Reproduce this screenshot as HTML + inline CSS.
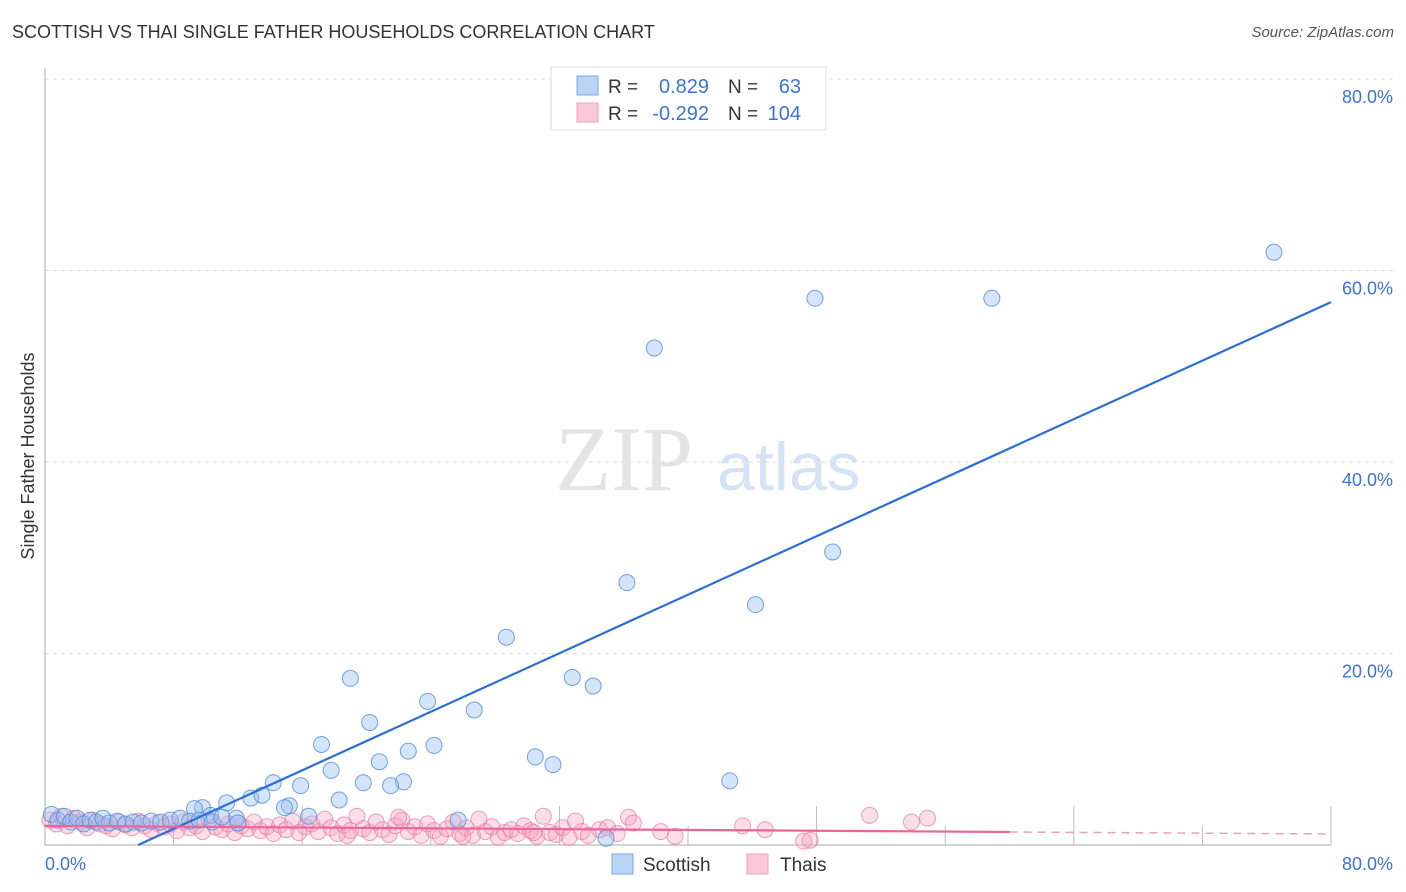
<!DOCTYPE html>
<html><head><meta charset="utf-8"><style>
body{margin:0;background:#fff;font-family:"Liberation Sans",sans-serif;}
#wrap{position:relative;width:1406px;height:892px;overflow:hidden;}
.t{position:absolute;white-space:nowrap;}
</style></head><body>
<div id="wrap">
<div class="t" style="left:12px;top:22px;font-size:18px;color:#333;">SCOTTISH VS THAI SINGLE FATHER HOUSEHOLDS CORRELATION CHART</div>
<div class="t" style="right:12px;top:24px;font-size:15px;color:#555;font-style:italic;">Source: ZipAtlas.com</div>
<svg id="svg" width="1406" height="892" style="position:absolute;left:0;top:0"></svg>
</div>
<script>
const scotX=[76.45,47.9,58.9,37.9,49.0,36.2,44.2,28.7,32.8,34.1,19.0,23.8,26.7,20.2,17.2,24.2,22.6,20.8,30.5,31.6,17.8,42.6,22.3,19.8,21.5,14.2,15.9,12.8,13.5,18.3,11.3,9.8,9.3,15.2,14.9,10.3,16.4,25.7,34.9,11.9,0.4,0.8,1.2,1.6,2.0,2.4,2.8,3.2,3.6,4.0,4.5,5.0,5.5,6.0,6.6,7.2,7.8,8.4,9.0,9.6,10.4,11.0,12.0];
const scotY=[61.9,57.1,57.1,51.9,30.6,27.4,25.1,21.7,17.5,16.6,17.4,15.0,14.1,12.8,10.5,10.4,9.8,8.7,9.2,8.4,7.8,6.7,6.6,6.5,6.2,6.5,6.2,4.9,5.2,4.7,4.4,3.9,3.8,4.1,3.9,3.1,3.0,2.6,0.7,2.8,3.2,2.6,3.0,2.4,2.8,2.2,2.6,2.4,2.8,2.3,2.5,2.2,2.4,2.3,2.5,2.4,2.6,2.8,2.5,2.6,2.4,2.9,2.3];
const thaiX=[51.3,53.9,54.9,43.4,44.8,47.2,47.6,36.3,36.6,38.3,39.2,34.5,0.3,0.7,1.0,1.4,1.8,2.2,2.6,3.0,3.4,3.8,4.2,4.6,5.0,5.4,5.8,6.2,6.6,7.0,7.4,7.8,8.2,8.6,9.0,9.4,9.8,10.2,10.6,11.0,11.4,11.8,12.2,12.6,13.0,13.4,13.8,14.2,14.6,15.0,15.4,15.8,16.2,16.6,17.0,17.4,17.8,18.2,18.6,19.0,19.4,19.8,20.2,20.6,21.0,21.4,21.8,22.2,22.6,23.0,23.4,23.8,24.2,24.6,25.0,25.4,25.8,26.2,26.6,27.0,27.4,27.8,28.2,28.6,29.0,29.4,29.8,30.2,30.6,31.0,31.4,31.8,32.2,32.6,33.0,33.4,33.8,35.0,35.6,12.0,18.8,22.0,26.0,30.4];
const thaiY=[3.1,2.4,2.8,2.0,1.6,0.4,0.5,2.9,2.3,1.4,0.9,1.6,2.6,2.2,3.0,2.0,2.8,2.4,1.8,2.6,2.2,2.0,1.7,2.4,2.1,1.8,2.5,2.0,1.6,2.3,1.9,2.2,1.5,2.4,1.8,2.0,1.4,2.6,1.9,1.6,2.2,1.3,2.0,1.7,2.4,1.5,1.9,1.2,2.1,1.6,2.5,1.3,1.9,2.2,1.4,2.7,1.8,1.2,2.1,1.5,3.0,1.7,1.3,2.4,1.6,1.1,2.0,2.6,1.4,1.9,1.0,2.2,1.5,0.9,1.7,2.4,1.2,1.8,1.0,2.7,1.4,1.9,0.8,1.3,1.6,1.2,2.0,1.5,0.9,3.0,1.3,1.1,1.8,0.8,2.5,1.4,1.0,1.8,1.2,2.3,1.0,2.9,0.9,1.3];
const yTicks=[20,40,60,80];
const xTicks=[0,8,16,24,32,40,48,56,64,72,80];
const blueLine=[5.79,0,80,56.7];
const pinkLine=[0,2.0,60,1.36,80,1.15];

const NS='http://www.w3.org/2000/svg';
const svg=document.getElementById('svg');
const X=v=>45+v*16.075, Y=v=>845-v*9.575;
function mk(tag,attrs,parent){const e=document.createElementNS(NS,tag);for(const k in attrs)e.setAttribute(k,attrs[k]);(parent||svg).appendChild(e);return e;}
// gridlines
yTicks.forEach(v=>{
 const l=mk('line',{x1:45,x2:1395,y1:Y(v),y2:Y(v),stroke:'#ddd','stroke-dasharray':'4,4'});
 
 
 const t=mk('text',{x:1393,y:Y(v)+24,'text-anchor':'end','font-size':18,fill:'#3a74d6','font-family':'Liberation Sans, sans-serif'});
 t.textContent=v.toFixed(1)+'%';
 
 
});
mk('line',{x1:45,x2:45,y1:68,y2:845,stroke:'#aaa'});
mk('line',{x1:45,x2:1331,y1:845,y2:845,stroke:'#aaa'});
xTicks.forEach((v,i)=>{if(i==0)return;
 const tk=mk('line',{x1:X(v),x2:X(v),y1:845,y2:(i%2==1?826:806),stroke:'#bbb'});
 
 
});
const wm=mk('text',{x:555,y:490,'font-size':92,fill:'#e4e4e4','font-family':'Liberation Serif, serif'});wm.textContent='ZIP';
const wm2=mk('text',{x:717,y:490,'font-size':68,fill:'#d6e3f5','font-family':'Liberation Sans, sans-serif'});wm2.textContent='atlas';

const t0=mk('text',{x:45,y:870,'font-size':18,fill:'#3a74d6'});t0.textContent='0.0%';

const t1=mk('text',{x:1393,y:870,'text-anchor':'end','font-size':18,fill:'#3a74d6'});t1.textContent='80.0%';

const yt=mk('text',{x:34,y:456,'text-anchor':'middle','font-size':18,fill:'#333',transform:'rotate(-90 34 456)'});yt.textContent='Single Father Households';

thaiX.forEach((v,i)=>{
 const c=mk('circle',{cx:X(v),cy:Y(thaiY[i]),r:8,fill:'rgba(246,160,190,0.35)',stroke:'rgba(232,120,160,0.7)','stroke-width':1});
 
 
});
scotX.forEach((v,i)=>{
 const c=mk('circle',{cx:X(v),cy:Y(scotY[i]),r:8,fill:'rgba(150,190,240,0.4)',stroke:'rgba(80,140,220,0.8)','stroke-width':1});
 
 
});
const bl=mk('line',{x1:X(blueLine[0]),y1:Y(blueLine[1]),x2:X(blueLine[2]),y2:Y(blueLine[3]),stroke:'#2a6fd6','stroke-width':2.2});

const pl=mk('line',{x1:X(pinkLine[0]),y1:Y(pinkLine[1]),x2:X(pinkLine[2]),y2:Y(pinkLine[3]),stroke:'#e8679a','stroke-width':2.2});

const pd=mk('line',{x1:X(pinkLine[2]),y1:Y(pinkLine[3]),x2:X(pinkLine[4]),y2:Y(pinkLine[5]),stroke:'#e8a0bc','stroke-width':1.5,'stroke-dasharray':'8,6'});

// top legend
const lg=mk('g',{});

mk('rect',{x:551,y:67,width:275,height:63,fill:'#fff',stroke:'#ddd'},lg);
mk('rect',{x:577,y:76,width:21,height:19,fill:'#b8d4f5',stroke:'#7aa8e6'},lg);
mk('rect',{x:577,y:103,width:21,height:19,fill:'#fbc8d8',stroke:'#eea0bb'},lg);
[[93,'0.829','63'],[120,'-0.292','104']].forEach(r=>{
 let a=mk('text',{x:608,y:r[0],'font-size':19,fill:'#333'},lg);a.textContent='R =';
 a=mk('text',{x:709,y:r[0],'font-size':20,fill:'#3a74d6','text-anchor':'end'},lg);a.textContent=r[1];
 a=mk('text',{x:728,y:r[0],'font-size':19,fill:'#333'},lg);a.textContent='N =';
 a=mk('text',{x:801,y:r[0],'font-size':20,fill:'#3a74d6','text-anchor':'end'},lg);a.textContent=r[2];
});
// bottom legend
const bl2=mk('g',{});

mk('rect',{x:612,y:854,width:21,height:20,fill:'#b8d4f5',stroke:'#7aa8e6'},bl2);
let s=mk('text',{x:643,y:871,'font-size':19,fill:'#333'},bl2);s.textContent='Scottish';
mk('rect',{x:747,y:854,width:21,height:20,fill:'#fbc8d8',stroke:'#eea0bb'},bl2);
s=mk('text',{x:780,y:871,'font-size':19,fill:'#333'},bl2);s.textContent='Thais';
</script>
</body></html>
